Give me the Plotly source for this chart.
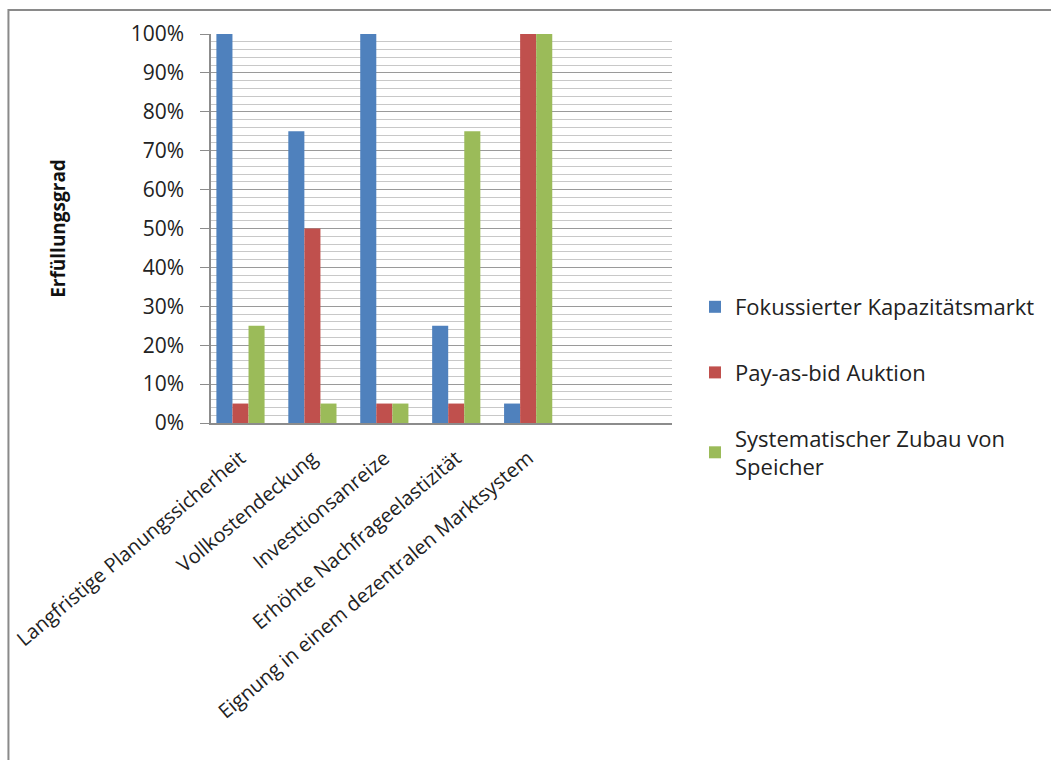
import plotly.graph_objects as go

categories = [
    "Langfristige Planungssicherheit",
    "Vollkostendeckung",
    "Investtionsanreize",
    "Erhöhte Nachfrageelastizität",
    "Eignung in einem dezentralen Marktsystem",
]
series_names = [
    "Fokussierter Kapazitätsmarkt",
    "Pay-as-bid Auktion",
    "Systematischer Zubau von<br>Speicher",
]
fokussiert = [1.00, 0.75, 1.00, 0.25, 0.05]
payasbid = [0.05, 0.50, 0.05, 0.05, 1.00]
speicher = [0.25, 0.05, 0.05, 0.75, 1.00]
colors = ["#4F81BD", "#C0504D", "#9BBB59"]

FONT = "Open Sans"

fig = go.Figure()
for name, vals, col in zip(series_names, [fokussiert, payasbid, speicher], colors):
    fig.add_trace(go.Bar(
        x=categories, y=vals, name=name, legendgroup=name,
        marker=dict(color=col, line=dict(width=0)),
    ))

# plot-area pixel geometry
L, T, R, B = 211, 34, 673, 423
W, H = 1051, 760
pw, ph = R - L, B - T

fig.update_layout(
    width=W, height=H,
    margin=dict(l=L, r=W - R, t=T, b=H - B),
    paper_bgcolor="white", plot_bgcolor="white",
    barmode="group", bargap=0.33, bargroupgap=0,
    font=dict(family=FONT, color="#222", size=18),
    showlegend=True,
    legend=dict(
        x=(695 - L) / pw, y=(B - 286) / ph, xanchor="left", yanchor="top",
        traceorder="grouped", tracegroupgap=34,
        font=dict(family=FONT, size=22, color="#222"),
        bgcolor="rgba(0,0,0,0)",
    ),
)
fig.update_xaxes(
    type="category", range=[-0.41, 6.0],
    showline=True, linecolor="#8c8c8c", linewidth=1.5,
    showgrid=False, ticks="", tickangle=-40,
    ticklabelstandoff=14,
    tickfont=dict(family=FONT, size=20, color="#222"),
)
fig.update_yaxes(
    range=[0, 1], dtick=0.1, tickformat=".0%",
    showline=True, linecolor="#8c8c8c", linewidth=1.5,
    showgrid=True, gridcolor="#9a9a9a", gridwidth=1,
    ticks="outside", ticklen=9, tickcolor="#8c8c8c",
    ticklabelstandoff=12,
    tickfont=dict(family=FONT, size=21, color="#222"),
    minor=dict(dtick=0.02, showgrid=True, gridcolor="#c8c8c8", gridwidth=1),
    zeroline=False,
)
fig.add_annotation(
    text="<b>Erfüllungsgrad</b>", textangle=-90,
    xref="paper", yref="paper", x=(57 - L) / pw, y=0.5,
    xanchor="center", yanchor="middle",
    showarrow=False, font=dict(family=FONT, size=19, color="#111"),
)
# outer chart border (extends beyond the visible window on the right and bottom)
fig.add_shape(
    type="rect", xref="paper", yref="paper",
    x0=(8 - L) / pw, x1=(1080 - L) / pw,
    y0=(B - 790) / ph, y1=(B - 10) / ph,
    line=dict(color="#8a8a8a", width=2), fillcolor="rgba(0,0,0,0)",
    layer="below",
)

fig.write_html("out.html")
